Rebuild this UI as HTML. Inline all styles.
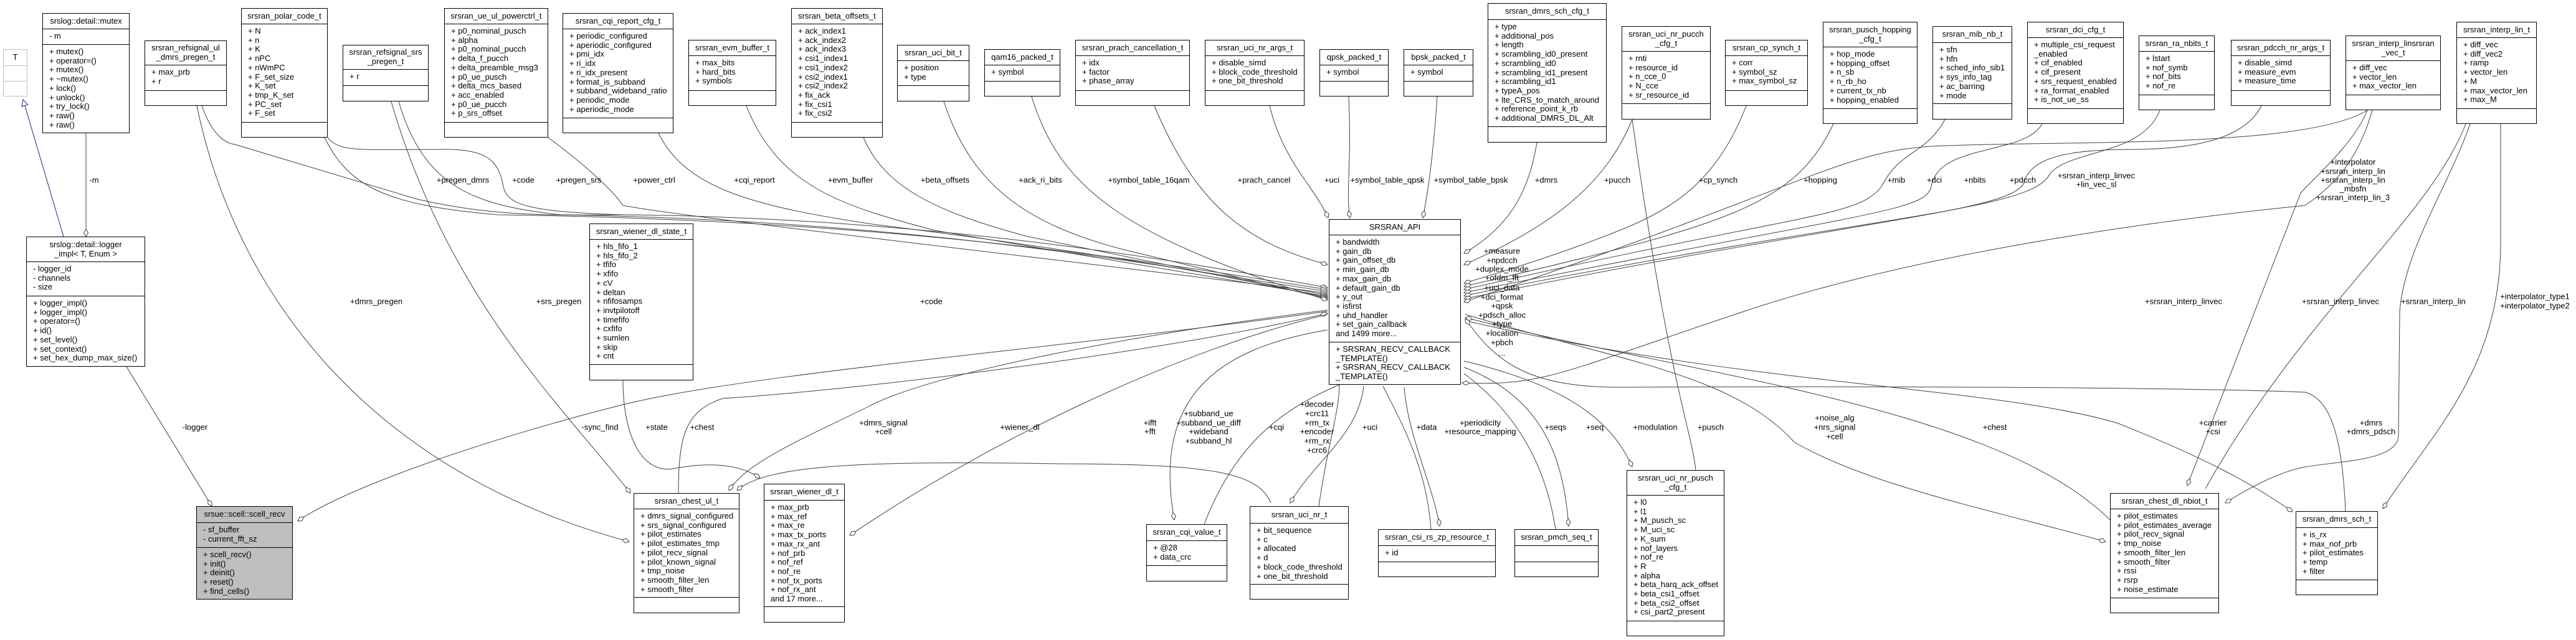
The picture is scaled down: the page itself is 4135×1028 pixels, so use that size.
<!DOCTYPE html>
<html><head><meta charset="utf-8">
<style>
html,body{margin:0;padding:0;background:#fff;}
body{width:4135px;height:1028px;position:relative;overflow:hidden;font-family:"Liberation Sans",Arial,sans-serif;font-size:13px;color:#000;}
svg{position:absolute;left:0;top:0;}
.b{position:absolute;box-sizing:border-box;border:1px solid #000;background:#fff;}
.g{background:#bfbfbf;}
.gt{border-color:#bfbfbf;}
.gt .t,.gt .a{border-color:#bfbfbf;}
.t{display:flex;align-items:center;justify-content:center;text-align:center;border-bottom:1px solid #000;box-sizing:border-box;line-height:14.7px;white-space:nowrap;}
.a{border-bottom:1px solid #000;box-sizing:border-box;padding:4px 0 0 10px;line-height:14.7px;white-space:nowrap;}
.l{border-bottom:none;}
</style></head><body>
<svg width="4135" height="1028" viewBox="0 0 4135 1028">
<defs>
<marker id="d" markerWidth="14" markerHeight="8" refX="13" refY="4" orient="auto" markerUnits="userSpaceOnUse"><path d="M1,4 L7,0.5 L13,4 L7,7.5 Z" fill="#fff" stroke="#404040"/></marker>
<marker id="tri" markerWidth="12" markerHeight="12" refX="11" refY="6" orient="auto" markerUnits="userSpaceOnUse"><path d="M1,1 L11,6 L1,11 Z" fill="#fff" stroke="#1e1e8c"/></marker>
</defs>
<g fill="none" stroke="#404040" stroke-width="1">
<path d="M102,380 L37,160" stroke="#1e1e8c" marker-end="url(#tri)"/>
<path d="M138,214 L138,380" marker-end="url(#d)"/>
<path d="M203,589 L340,813" marker-end="url(#d)"/>
<path d="M316,170 C380,480 600,760 1010,870" marker-end="url(#d)"/>
<path d="M628,163 C720,480 900,650 1012,792" marker-end="url(#d)"/>
<path d="M324,170 C340,215 360,230 377,232 L670,320 C800,350 900,345 1000,345 C1500,350 1900,420 2131,462" marker-end="url(#d)"/>
<path d="M521,221 C560,300 620,330 800,345 C1500,355 1900,430 2131,465" marker-end="url(#d)"/>
<path d="M526,221 C545,245 580,240 700,240 C780,238 800,255 808,300 C815,330 850,340 1000,345"/>
<path d="M640,163 C680,300 760,330 900,345 C1500,355 1900,435 2131,468" marker-end="url(#d)"/>
<path d="M880,221 C920,250 980,300 1000,330 C1100,350 1900,440 2131,471" marker-end="url(#d)"/>
<path d="M1057,214 C1100,300 1200,330 1400,360 C1800,410 2000,450 2131,474" marker-end="url(#d)"/>
<path d="M1198,170 C1250,300 1350,330 1500,370 L2131,476" marker-end="url(#d)"/>
<path d="M1386,221 C1420,300 1500,340 1650,380 L2131,478" marker-end="url(#d)"/>
<path d="M1515,163 C1560,300 1650,360 1800,400 L2131,480" marker-end="url(#d)"/>
<path d="M1656,155 C1700,300 1800,380 2131,482" marker-end="url(#d)"/>
<path d="M1853,170 C1920,330 2000,390 2131,425" marker-end="url(#d)"/>
<path d="M2038,170 C2060,260 2110,300 2132,350" marker-end="url(#d)"/>
<path d="M2165,155 C2170,260 2160,310 2167,350" marker-end="url(#d)"/>
<path d="M2307,155 C2300,260 2290,320 2284,350" marker-end="url(#d)"/>
<path d="M2467,229 C2455,300 2430,360 2350,407" marker-end="url(#d)"/>
<path d="M2620,192 C2580,290 2500,360 2350,425" marker-end="url(#d)"/>
<path d="M2803,170 C2760,280 2700,330 2600,370 C2500,410 2400,440 2350,455" marker-end="url(#d)"/>
<path d="M2943,199 C2880,330 2780,360 2350,460" marker-end="url(#d)"/>
<path d="M3122,192 C3090,250 3050,240 3020,300 C2980,350 2900,340 2350,465" marker-end="url(#d)"/>
<path d="M3278,199 C3250,250 3110,230 3100,300 C3090,340 3000,340 2350,470" marker-end="url(#d)"/>
<path d="M3467,177 C3440,250 3320,240 3290,280 C3260,340 3000,345 2350,475" marker-end="url(#d)"/>
<path d="M3630,170 C3600,230 3500,240 3420,240 C3300,240 3260,260 3250,290 C3240,340 3000,348 2350,480" marker-end="url(#d)"/>
<path d="M3800,177 C3700,240 3300,225 3100,235 C2950,245 2900,300 2350,485" marker-end="url(#d)"/>
<path d="M3800,177 C3780,230 3710,290 3693,310 L3511,780" marker-end="url(#d)"/>
<path d="M3808,177 C3790,240 3760,290 3700,330 C3500,350 3100,400 2800,500 C2500,600 2480,620 2347,615" marker-end="url(#d)"/>
<path d="M4014,199 L4014,400 C4010,600 3900,700 3825,817" marker-end="url(#d)"/>
<path d="M3965,199 C3930,300 3860,400 3852,500 L3850,700 C3848,740 3760,740 3700,750 C3650,760 3600,790 3572,808" marker-end="url(#d)"/>
<path d="M3958,199 C3900,350 3700,500 3540,785"/>
<path d="M2352,505 C2600,580 2780,600 2880,710 C3000,780 3200,820 3380,870" marker-end="url(#d)"/>
<path d="M3387,835 C3200,650 2700,600 2352,510" marker-end="url(#d)"/>
<path d="M2352,515 C2800,620 3200,620 3400,680 C3550,740 3620,780 3680,822" marker-end="url(#d)"/>
<path d="M3765,821 C3760,700 3740,640 3700,630 C3500,622 3000,620 2600,622 C2450,622 2400,580 2352,512" marker-end="url(#d)"/>
<path d="M2131,500 C1700,560 1200,600 1000,650 C800,700 560,780 478,837" marker-end="url(#d)"/>
<path d="M1089,792 C1089,700 1100,660 1160,640 C1400,625 1900,560 2131,503" marker-end="url(#d)"/>
<path d="M1000,611 C1000,700 1030,760 1080,753 C1120,745 1180,740 1220,768" marker-end="url(#d)"/>
<path d="M2131,505 C1900,560 1600,700 1364,860" marker-end="url(#d)"/>
<path d="M2040,808 C2020,760 1950,745 1700,745 C1400,740 1230,745 1183,788" marker-end="url(#d)"/>
<path d="M2131,498 C1800,540 1500,600 1400,650 C1300,700 1200,740 1170,788" marker-end="url(#d)"/>
<path d="M2189,620 C2180,700 2110,740 2071,808" marker-end="url(#d)"/>
<path d="M2117,813 C2130,720 2150,660 2150,618"/>
<path d="M2131,530 C1950,560 1850,640 1885,835" marker-end="url(#d)"/>
<path d="M1933,842 C1980,720 2050,660 2150,618"/>
<path d="M2254,622 C2260,700 2300,780 2311,845" marker-end="url(#d)"/>
<path d="M2297,850 C2290,750 2250,680 2220,620"/>
<path d="M2497,850 C2480,740 2430,660 2350,600"/>
<path d="M2350,590 C2480,640 2510,740 2518,845" marker-end="url(#d)"/>
<path d="M2350,580 C2520,620 2590,680 2620,750" marker-end="url(#d)"/>
<path d="M2722,755 C2715,690 2680,620 2620,192"/>
</g>
<g font-family="Liberation Sans, Arial, sans-serif" font-size="13" fill="#000" text-anchor="middle" dominant-baseline="central">
<text x="151" y="289">-m</text>
<text x="743" y="289">+pregen_dmrs</text>
<text x="840" y="289">+code</text>
<text x="929" y="289">+pregen_srs</text>
<text x="1050" y="289">+power_ctrl</text>
<text x="1211" y="289">+cqi_report</text>
<text x="1365" y="289">+evm_buffer</text>
<text x="1517" y="289">+beta_offsets</text>
<text x="1670" y="289">+ack_ri_bits</text>
<text x="1844" y="289">+symbol_table_16qam</text>
<text x="2029" y="289">+prach_cancel</text>
<text x="2138" y="289">+uci</text>
<text x="2227" y="289">+symbol_table_qpsk</text>
<text x="2361" y="289">+symbol_table_bpsk</text>
<text x="2482" y="289">+dmrs</text>
<text x="2596" y="289">+pucch</text>
<text x="2758" y="289">+cp_synch</text>
<text x="2922" y="289">+hopping</text>
<text x="3044" y="289">+mib</text>
<text x="3105" y="289">+dci</text>
<text x="3170" y="289">+nbits</text>
<text x="3247" y="289">+pdcch</text>
<text x="3365" y="282">+srsran_interp_linvec</text>
<text x="3365" y="296">+lin_vec_sl</text>
<text x="3777" y="260">+interpolator</text>
<text x="3777" y="275">+srsran_interp_lin</text>
<text x="3777" y="289">+srsran_interp_lin</text>
<text x="3777" y="303">_mbsfn</text>
<text x="3777" y="317">+srsran_interp_lin_3</text>
<text x="604" y="484">+dmrs_pregen</text>
<text x="897" y="484">+srs_pregen</text>
<text x="1495" y="484">+code</text>
<text x="2411" y="403">+measure</text>
<text x="2411" y="418">+npdcch</text>
<text x="2411" y="432">+duplex_mode</text>
<text x="2411" y="446">+ofdm_fft</text>
<text x="2411" y="462">+uci_data</text>
<text x="2411" y="477">+dci_format</text>
<text x="2411" y="491">+qpsk</text>
<text x="2411" y="506">+pdsch_alloc</text>
<text x="2411" y="520">+type</text>
<text x="2411" y="535">+location</text>
<text x="2411" y="550">+pbch</text>
<text x="2411" y="567">...</text>
<text x="3505" y="484">+srsran_interp_linvec</text>
<text x="3757" y="484">+srsran_interp_linvec</text>
<text x="3906" y="484">+srsran_interp_lin</text>
<text x="4069" y="476">+interpolator_type1</text>
<text x="4069" y="491">+interpolator_type2</text>
<text x="313" y="686">-logger</text>
<text x="963" y="686">-sync_find</text>
<text x="1054" y="686">+state</text>
<text x="1127" y="686">+chest</text>
<text x="1418" y="679">+dmrs_signal</text>
<text x="1418" y="693">+cell</text>
<text x="1637" y="686">+wiener_dl</text>
<text x="1846" y="679">+ifft</text>
<text x="1846" y="693">+fft</text>
<text x="1940" y="664">+subband_ue</text>
<text x="1940" y="679">+subband_ue_diff</text>
<text x="1940" y="693">+wideband</text>
<text x="1940" y="708">+subband_hl</text>
<text x="2049" y="686">+cqi</text>
<text x="2114" y="649">+decoder</text>
<text x="2114" y="664">+crc11</text>
<text x="2114" y="679">+rm_tx</text>
<text x="2114" y="693">+encoder</text>
<text x="2114" y="708">+rm_rx</text>
<text x="2114" y="723">+crc6</text>
<text x="2199" y="686">+uci</text>
<text x="2290" y="686">+data</text>
<text x="2376" y="679">+periodicity</text>
<text x="2376" y="693">+resource_mapping</text>
<text x="2497" y="686">+seqs</text>
<text x="2560" y="686">+seq</text>
<text x="2657" y="686">+modulation</text>
<text x="2746" y="686">+pusch</text>
<text x="2945" y="671">+noise_alg</text>
<text x="2945" y="686">+nrs_signal</text>
<text x="2945" y="701">+cell</text>
<text x="3202" y="686">+chest</text>
<text x="3552" y="679">+carrier</text>
<text x="3552" y="693">+csi</text>
<text x="3806" y="679">+dmrs</text>
<text x="3806" y="693">+dmrs_pdsch</text>
</g>
</svg>

<div class="b gt" style="left:5px;top:79px;width:39px;height:76px"><div class="t" style="height:26px">T</div><div class="a" style="height:25px"></div></div>
<div class="b" style="left:68px;top:21px;width:140px;height:193px"><div class="t" style="height:25px">srslog::detail::mutex</div><div class="a" style="height:25px">- m</div><div class="a l">+ mutex()<br>+ operator=()<br>+ mutex()<br>+ ~mutex()<br>+ lock()<br>+ unlock()<br>+ try_lock()<br>+ raw()<br>+ raw()</div></div>
<div class="b" style="left:232px;top:65px;width:132px;height:105px"><div class="t" style="height:39px">srsran_refsignal_ul<br>_dmrs_pregen_t</div><div class="a" style="height:41px">+ max_prb<br>+ r</div></div>
<div class="b" style="left:387px;top:13px;width:139px;height:208px"><div class="t" style="height:25px">srsran_polar_code_t</div><div class="a" style="height:158px">+ N<br>+ n<br>+ K<br>+ nPC<br>+ nWmPC<br>+ F_set_size<br>+ K_set<br>+ tmp_K_set<br>+ PC_set<br>+ F_set</div></div>
<div class="b" style="left:550px;top:72px;width:138px;height:91px"><div class="t" style="height:39px">srsran_refsignal_srs<br>_pregen_t</div><div class="a" style="height:26px">+ r</div></div>
<div class="b" style="left:713px;top:13px;width:167px;height:208px"><div class="t" style="height:25px">srsran_ue_ul_powerctrl_t</div><div class="a" style="height:158px">+ p0_nominal_pusch<br>+ alpha<br>+ p0_nominal_pucch<br>+ delta_f_pucch<br>+ delta_preamble_msg3<br>+ p0_ue_pusch<br>+ delta_mcs_based<br>+ acc_enabled<br>+ p0_ue_pucch<br>+ p_srs_offset</div></div>
<div class="b" style="left:903px;top:21px;width:178px;height:193px"><div class="t" style="height:25px">srsran_cqi_report_cfg_t</div><div class="a" style="height:143px">+ periodic_configured<br>+ aperiodic_configured<br>+ pmi_idx<br>+ ri_idx<br>+ ri_idx_present<br>+ format_is_subband<br>+ subband_wideband_ratio<br>+ periodic_mode<br>+ aperiodic_mode</div></div>
<div class="b" style="left:1105px;top:64px;width:141px;height:106px"><div class="t" style="height:25px">srsran_evm_buffer_t</div><div class="a" style="height:56px">+ max_bits<br>+ hard_bits<br>+ symbols</div></div>
<div class="b" style="left:1270px;top:13px;width:147px;height:208px"><div class="t" style="height:25px">srsran_beta_offsets_t</div><div class="a" style="height:158px">+ ack_index1<br>+ ack_index2<br>+ ack_index3<br>+ csi1_index1<br>+ csi1_index2<br>+ csi2_index1<br>+ csi2_index2<br>+ fix_ack<br>+ fix_csi1<br>+ fix_csi2</div></div>
<div class="b" style="left:1440px;top:72px;width:116px;height:91px"><div class="t" style="height:25px">srsran_uci_bit_t</div><div class="a" style="height:40px">+ position<br>+ type</div></div>
<div class="b" style="left:1580px;top:79px;width:122px;height:76px"><div class="t" style="height:25px">qam16_packed_t</div><div class="a" style="height:26px">+ symbol</div></div>
<div class="b" style="left:1726px;top:64px;width:184px;height:106px"><div class="t" style="height:25px">srsran_prach_cancellation_t</div><div class="a" style="height:56px">+ idx<br>+ factor<br>+ phase_array</div></div>
<div class="b" style="left:1934px;top:64px;width:160px;height:106px"><div class="t" style="height:25px">srsran_uci_nr_args_t</div><div class="a" style="height:56px">+ disable_simd<br>+ block_code_threshold<br>+ one_bit_threshold</div></div>
<div class="b" style="left:2118px;top:79px;width:111px;height:76px"><div class="t" style="height:25px">qpsk_packed_t</div><div class="a" style="height:26px">+ symbol</div></div>
<div class="b" style="left:2253px;top:79px;width:112px;height:76px"><div class="t" style="height:25px">bpsk_packed_t</div><div class="a" style="height:26px">+ symbol</div></div>
<div class="b" style="left:2388px;top:5px;width:191px;height:224px"><div class="t" style="height:26px">srsran_dmrs_sch_cfg_t</div><div class="a" style="height:172px">+ type<br>+ additional_pos<br>+ length<br>+ scrambling_id0_present<br>+ scrambling_id0<br>+ scrambling_id1_present<br>+ scrambling_id1<br>+ typeA_pos<br>+ lte_CRS_to_match_around<br>+ reference_point_k_rb<br>+ additional_DMRS_DL_Alt</div></div>
<div class="b" style="left:2603px;top:42px;width:143px;height:150px"><div class="t" style="height:40px">srsran_uci_nr_pucch<br>_cfg_t</div><div class="a" style="height:84px">+ rnti<br>+ resource_id<br>+ n_cce_0<br>+ N_cce<br>+ sr_resource_id</div></div>
<div class="b" style="left:2769px;top:64px;width:133px;height:106px"><div class="t" style="height:25px">srsran_cp_synch_t</div><div class="a" style="height:56px">+ corr<br>+ symbol_sz<br>+ max_symbol_sz</div></div>
<div class="b" style="left:2926px;top:35px;width:152px;height:164px"><div class="t" style="height:40px">srsran_pusch_hopping<br>_cfg_t</div><div class="a" style="height:99px">+ hop_mode<br>+ hopping_offset<br>+ n_sb<br>+ n_rb_ho<br>+ current_tx_nb<br>+ hopping_enabled</div></div>
<div class="b" style="left:3102px;top:42px;width:128px;height:150px"><div class="t" style="height:26px">srsran_mib_nb_t</div><div class="a" style="height:98px">+ sfn<br>+ hfn<br>+ sched_info_sib1<br>+ sys_info_tag<br>+ ac_barring<br>+ mode</div></div>
<div class="b" style="left:3254px;top:35px;width:155px;height:164px"><div class="t" style="height:25px">srsran_dci_cfg_t</div><div class="a" style="height:114px">+ multiple_csi_request<br>_enabled<br>+ cif_enabled<br>+ cif_present<br>+ srs_request_enabled<br>+ ra_format_enabled<br>+ is_not_ue_ss</div></div>
<div class="b" style="left:3433px;top:57px;width:122px;height:120px"><div class="t" style="height:25px">srsran_ra_nbits_t</div><div class="a" style="height:70px">+ lstart<br>+ nof_symb<br>+ nof_bits<br>+ nof_re</div></div>
<div class="b" style="left:3581px;top:64px;width:160px;height:106px"><div class="t" style="height:25px">srsran_pdcch_nr_args_t</div><div class="a" style="height:56px">+ disable_simd<br>+ measure_evm<br>+ measure_time</div></div>
<div class="b" style="left:3765px;top:57px;width:153px;height:120px"><div class="t" style="height:40px">srsran_interp_linsrsran<br>_vec_t</div><div class="a" style="height:55px">+ diff_vec<br>+ vector_len<br>+ max_vector_len</div></div>
<div class="b" style="left:3943px;top:35px;width:129px;height:164px"><div class="t" style="height:25px">srsran_interp_lin_t</div><div class="a" style="height:114px">+ diff_vec<br>+ diff_vec2<br>+ ramp<br>+ vector_len<br>+ M<br>+ max_vector_len<br>+ max_M</div></div>
<div class="b" style="left:42px;top:380px;width:191px;height:209px"><div class="t" style="height:40px">srslog::detail::logger<br>_impl&lt; T, Enum &gt;</div><div class="a" style="height:55px">- logger_id<br>- channels<br>- size</div><div class="a l">+ logger_impl()<br>+ logger_impl()<br>+ operator=()<br>+ id()<br>+ set_level()<br>+ set_context()<br>+ set_hex_dump_max_size()</div></div>
<div class="b" style="left:946px;top:359px;width:167px;height:252px"><div class="t" style="height:25px">srsran_wiener_dl_state_t</div><div class="a" style="height:201px">+ hls_fifo_1<br>+ hls_fifo_2<br>+ tfifo<br>+ xfifo<br>+ cV<br>+ deltan<br>+ nfifosamps<br>+ invtpilotoff<br>+ timefifo<br>+ cxfifo<br>+ sumlen<br>+ skip<br>+ cnt</div></div>
<div class="b" style="left:2133px;top:352px;width:212px;height:266px"><div class="t" style="height:25px">SRSRAN_API</div><div class="a" style="height:172px">+ bandwidth<br>+ gain_db<br>+ gain_offset_db<br>+ min_gain_db<br>+ max_gain_db<br>+ default_gain_db<br>+ y_out<br>+ isfirst<br>+ uhd_handler<br>+ set_gain_callback<br>and 1499 more...</div><div class="a l">+ SRSRAN_RECV_CALLBACK<br>_TEMPLATE()<br>+ SRSRAN_RECV_CALLBACK<br>_TEMPLATE()</div></div>
<div class="b g" style="left:315px;top:813px;width:155px;height:150px"><div class="t" style="height:26px">srsue::scell::scell_recv</div><div class="a" style="height:40px">- sf_buffer<br>- current_fft_sz</div><div class="a l">+ scell_recv()<br>+ init()<br>+ deinit()<br>+ reset()<br>+ find_cells()</div></div>
<div class="b" style="left:1017px;top:792px;width:170px;height:193px"><div class="t" style="height:25px">srsran_chest_ul_t</div><div class="a" style="height:142px">+ dmrs_signal_configured<br>+ srs_signal_configured<br>+ pilot_estimates<br>+ pilot_estimates_tmp<br>+ pilot_recv_signal<br>+ pilot_known_signal<br>+ tmp_noise<br>+ smooth_filter_len<br>+ smooth_filter</div></div>
<div class="b" style="left:1226px;top:777px;width:130px;height:223px"><div class="t" style="height:26px">srsran_wiener_dl_t</div><div class="a" style="height:171px">+ max_prb<br>+ max_ref<br>+ max_re<br>+ max_tx_ports<br>+ max_rx_ant<br>+ nof_prb<br>+ nof_ref<br>+ nof_re<br>+ nof_tx_ports<br>+ nof_rx_ant<br>and 17 more...</div></div>
<div class="b" style="left:1840px;top:842px;width:130px;height:92px"><div class="t" style="height:26px">srsran_cqi_value_t</div><div class="a" style="height:40px">+ @28<br>+ data_crc</div></div>
<div class="b" style="left:2006px;top:813px;width:159px;height:150px"><div class="t" style="height:27px">srsran_uci_nr_t</div><div class="a" style="height:98px">+ bit_sequence<br>+ c<br>+ allocated<br>+ d<br>+ block_code_threshold<br>+ one_bit_threshold</div></div>
<div class="b" style="left:2212px;top:850px;width:189px;height:77px"><div class="t" style="height:26px">srsran_csi_rs_zp_resource_t</div><div class="a" style="height:26px">+ id</div></div>
<div class="b" style="left:2431px;top:850px;width:135px;height:77px"><div class="t" style="height:26px">srsran_pmch_seq_t</div><div class="a" style="height:26px"></div></div>
<div class="b" style="left:2611px;top:755px;width:157px;height:267px"><div class="t" style="height:40px">srsran_uci_nr_pusch<br>_cfg_t</div><div class="a" style="height:202px">+ l0<br>+ l1<br>+ M_pusch_sc<br>+ M_uci_sc<br>+ K_sum<br>+ nof_layers<br>+ nof_re<br>+ R<br>+ alpha<br>+ beta_harq_ack_offset<br>+ beta_csi1_offset<br>+ beta_csi2_offset<br>+ csi_part2_present</div></div>
<div class="b" style="left:3387px;top:792px;width:175px;height:193px"><div class="t" style="height:25px">srsran_chest_dl_nbiot_t</div><div class="a" style="height:143px">+ pilot_estimates<br>+ pilot_estimates_average<br>+ pilot_recv_signal<br>+ tmp_noise<br>+ smooth_filter_len<br>+ smooth_filter<br>+ rssi<br>+ rsrp<br>+ noise_estimate</div></div>
<div class="b" style="left:3685px;top:821px;width:132px;height:135px"><div class="t" style="height:26px">srsran_dmrs_sch_t</div><div class="a" style="height:84px">+ is_rx<br>+ max_nof_prb<br>+ pilot_estimates<br>+ temp<br>+ filter</div></div>
</body></html>
